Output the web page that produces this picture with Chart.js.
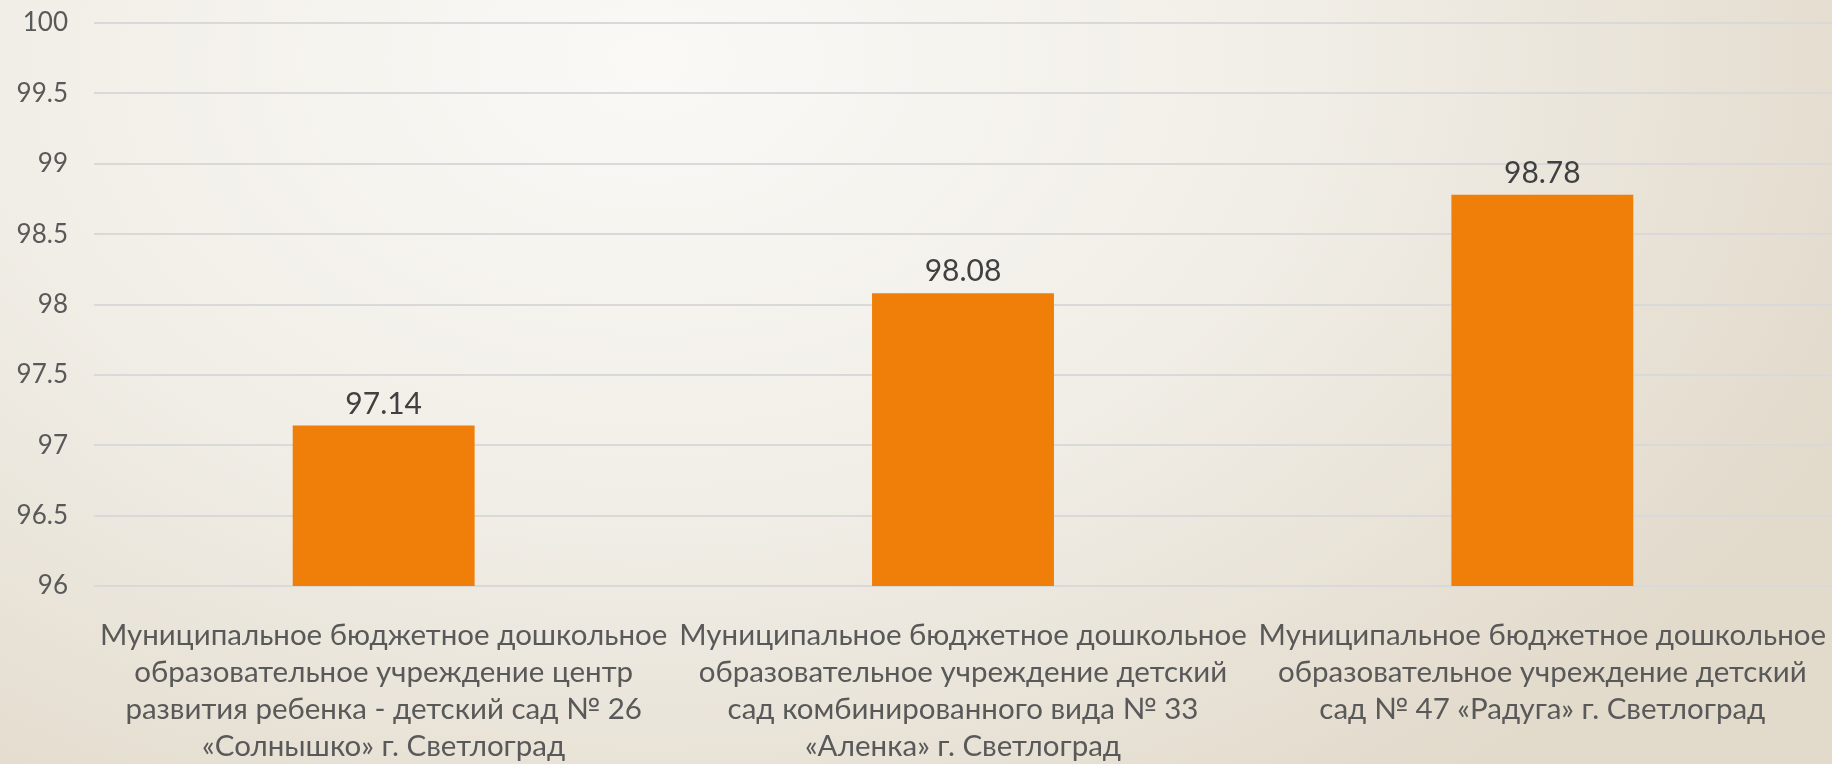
<!DOCTYPE html>
<html>
<head>
<meta charset="utf-8">
<script src="https://cdn.jsdelivr.net/npm/chart.js@4"></script>
<style>
  html, body { margin: 0; padding: 0; }
  body {
    width: 1832px; height: 764px; overflow: hidden;
    background: radial-gradient(ellipse 1300px 900px at 650px 60px, #faf9f6 0%, #f1eee7 50%, #e2dacb 100%);
  }
  #wrap { width: 1832px; height: 764px; position: relative; }
</style>
</head>
<body>
<div id="wrap"><canvas id="grafico"></canvas></div>
<script>
// категории (подписи по оси X, построчно)
const categorias = [
  ['Муниципальное бюджетное дошкольное', 'образовательное учреждение центр', 'развития ребенка - детский сад № 26', '«Солнышко» г. Светлоград'],
  ['Муниципальное бюджетное дошкольное', 'образовательное учреждение детский', 'сад комбинированного вида № 33', '«Аленка» г. Светлоград'],
  ['Муниципальное бюджетное дошкольное', 'образовательное учреждение детский', 'сад № 47 «Радуга» г. Светлоград']
];
const valores = [97.14, 98.08, 98.78];
const eixoMin = 96;
const eixoMax = 100;
const passo = 0.5;

// rótulos de valor acima das barras
const rotulosValor = {
  id: 'rotulosValor',
  afterDatasetsDraw(chart) {
    const ctx = chart.ctx;
    const meta = chart.getDatasetMeta(0);
    ctx.save();
    ctx.font = '30px Lato';
    ctx.fillStyle = '#404040';
    ctx.textAlign = 'center';
    ctx.textBaseline = 'alphabetic';
    meta.data.forEach(function (barra, i) {
      ctx.fillText(String(valores[i]), barra.x, barra.y - 12);
    });
    ctx.restore();
  }
};

const grafico = document.getElementById('grafico');

new Chart(grafico, {
  type: 'bar',
  data: {
    labels: categorias,
    datasets: [
      {
        data: valores,
        backgroundColor: '#f07f09',
        barPercentage: 0.314,
        categoryPercentage: 1
      }
    ]
  },
  options: {
    responsive: true,
    maintainAspectRatio: false,
    animation: false,
    layout: {
      padding: { top: 23, left: 12, right: 0, bottom: 0 }
    },
    plugins: {
      legend: { display: false },
      tooltip: { enabled: false }
    },
    scales: {
      x: {
        grid: { display: false, drawTicks: false },
        border: { display: false },
        afterFit(escala) {
          escala.height = 178;
          escala.paddingLeft = 0;
          escala.paddingRight = 0;
        },
        ticks: {
          autoSkip: false,
          maxRotation: 0,
          minRotation: 0,
          padding: 31,
          color: '#595959',
          font: { family: 'Lato', size: 29.5, lineHeight: '37px' }
        }
      },
      y: {
        min: eixoMin,
        max: eixoMax,
        border: { display: false },
        grid: { color: '#d9d9d9', lineWidth: 2, drawTicks: false },
        afterFit(escala) {
          escala.width = 82;
          escala.paddingTop = 0;
          escala.paddingBottom = 0;
        },
        ticks: {
          stepSize: passo,
          padding: 26,
          color: '#595959',
          font: { family: 'Lato', size: 26 },
          callback: function (v) { return String(v); }
        }
      }
    }
  },
  plugins: [rotulosValor]
});
</script>
</body>
</html>
